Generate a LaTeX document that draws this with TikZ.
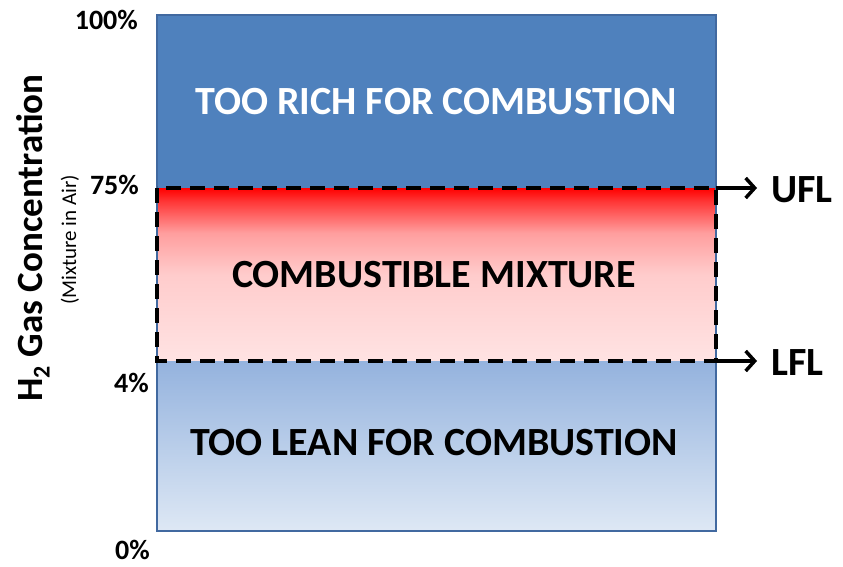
\documentclass[tikz,border=0pt]{standalone}
\usepackage{fontspec}
\setmainfont{Carlito}
\usetikzlibrary{arrows.meta}

\definecolor{richblue}{RGB}{79,129,189}
\definecolor{frameblue}{RGB}{65,105,160}

% Fades for the combustible band and the lean band (path spans 25bp..75bp)
\pgfdeclareverticalshading{combfade}{100bp}{
  rgb(0bp)=(1,0.89,0.89);
  rgb(25bp)=(1,0.89,0.89);
  rgb(50bp)=(1,0.80,0.80);
  rgb(62bp)=(1,0.62,0.62);
  rgb(71bp)=(1,0.22,0.22);
  rgb(75bp)=(1,0,0);
  rgb(100bp)=(1,0,0)}
\pgfdeclareverticalshading{leanfade}{100bp}{
  rgb(0bp)=(0.87,0.91,0.96);
  rgb(25bp)=(0.87,0.91,0.96);
  rgb(75bp)=(0.58,0.70,0.87);
  rgb(100bp)=(0.58,0.70,0.87)}

\tikzset{
  pct/.style={font=\bfseries\fontsize{28}{28}\selectfont, anchor=east, inner sep=0pt},
  zonetext/.style={font=\bfseries\fontsize{40}{40}\selectfont, inner sep=0pt},
  limittext/.style={font=\bfseries\fontsize{40}{40}\selectfont, anchor=west, inner sep=0pt},
  dashframe/.style={draw=black, line width=4.5pt, dash pattern=on 15pt off 9pt},
  limitarrow/.style={line width=3.5pt, -{Straight Barb[length=9pt,width=20pt,line width=3.5pt]}},
}

\begin{document}
\begin{tikzpicture}[x=1pt,y=-1pt]
  \useasboundingbox (0,0) rectangle (843,567);

  % zones
  \fill[richblue] (157,15) rectangle (716,188);
  \shade[shading=combfade] (157,188) rectangle (716,361);
  \shade[shading=leanfade] (157,361) rectangle (716,531);
  \draw[frameblue, line width=1.4pt] (157,15) rectangle (716,531);

  % flammable range
  \draw[dashframe] (157,188) rectangle (716,361);
  \coordinate (ufl) at (716,188);
  \coordinate (lfl) at (716,361);
  \node[limittext] (ufltext) at (771,190) {UFL};
  \node[limittext] (lfltext) at (771,363) {LFL};
  \draw[limitarrow] (ufl) -- (757,188);
  \draw[limitarrow] (lfl) -- (757,361);

  % zone labels
  \node[zonetext, text=white] (rich) at (436,102) {TOO RICH FOR COMBUSTION};
  \node[zonetext] (comb) at (434,275) {COMBUSTIBLE MIXTURE};
  \node[zonetext] (lean) at (434,443) {TOO LEAN FOR COMBUSTION};

  % scale
  \node[pct] (p100) at (138,20) {100\%};
  \node[pct] (p75) at (139,185) {75\%};
  \node[pct] (p4) at (149,383) {4\%};
  \node[pct] (p0) at (150,550) {0\%};

  % axis title
  \node[rotate=90, font=\bfseries\fontsize{37}{37}\selectfont, inner sep=0pt] (ytitle) at (33,238)
    {H\textsubscript{\fontsize{24}{24}\selectfont 2} Gas Concentration};
  \node[rotate=90, font=\fontsize{21}{21}\selectfont, inner sep=0pt] (ysub) at (70,240)
    {(Mixture in Air)};
\end{tikzpicture}
\end{document}
